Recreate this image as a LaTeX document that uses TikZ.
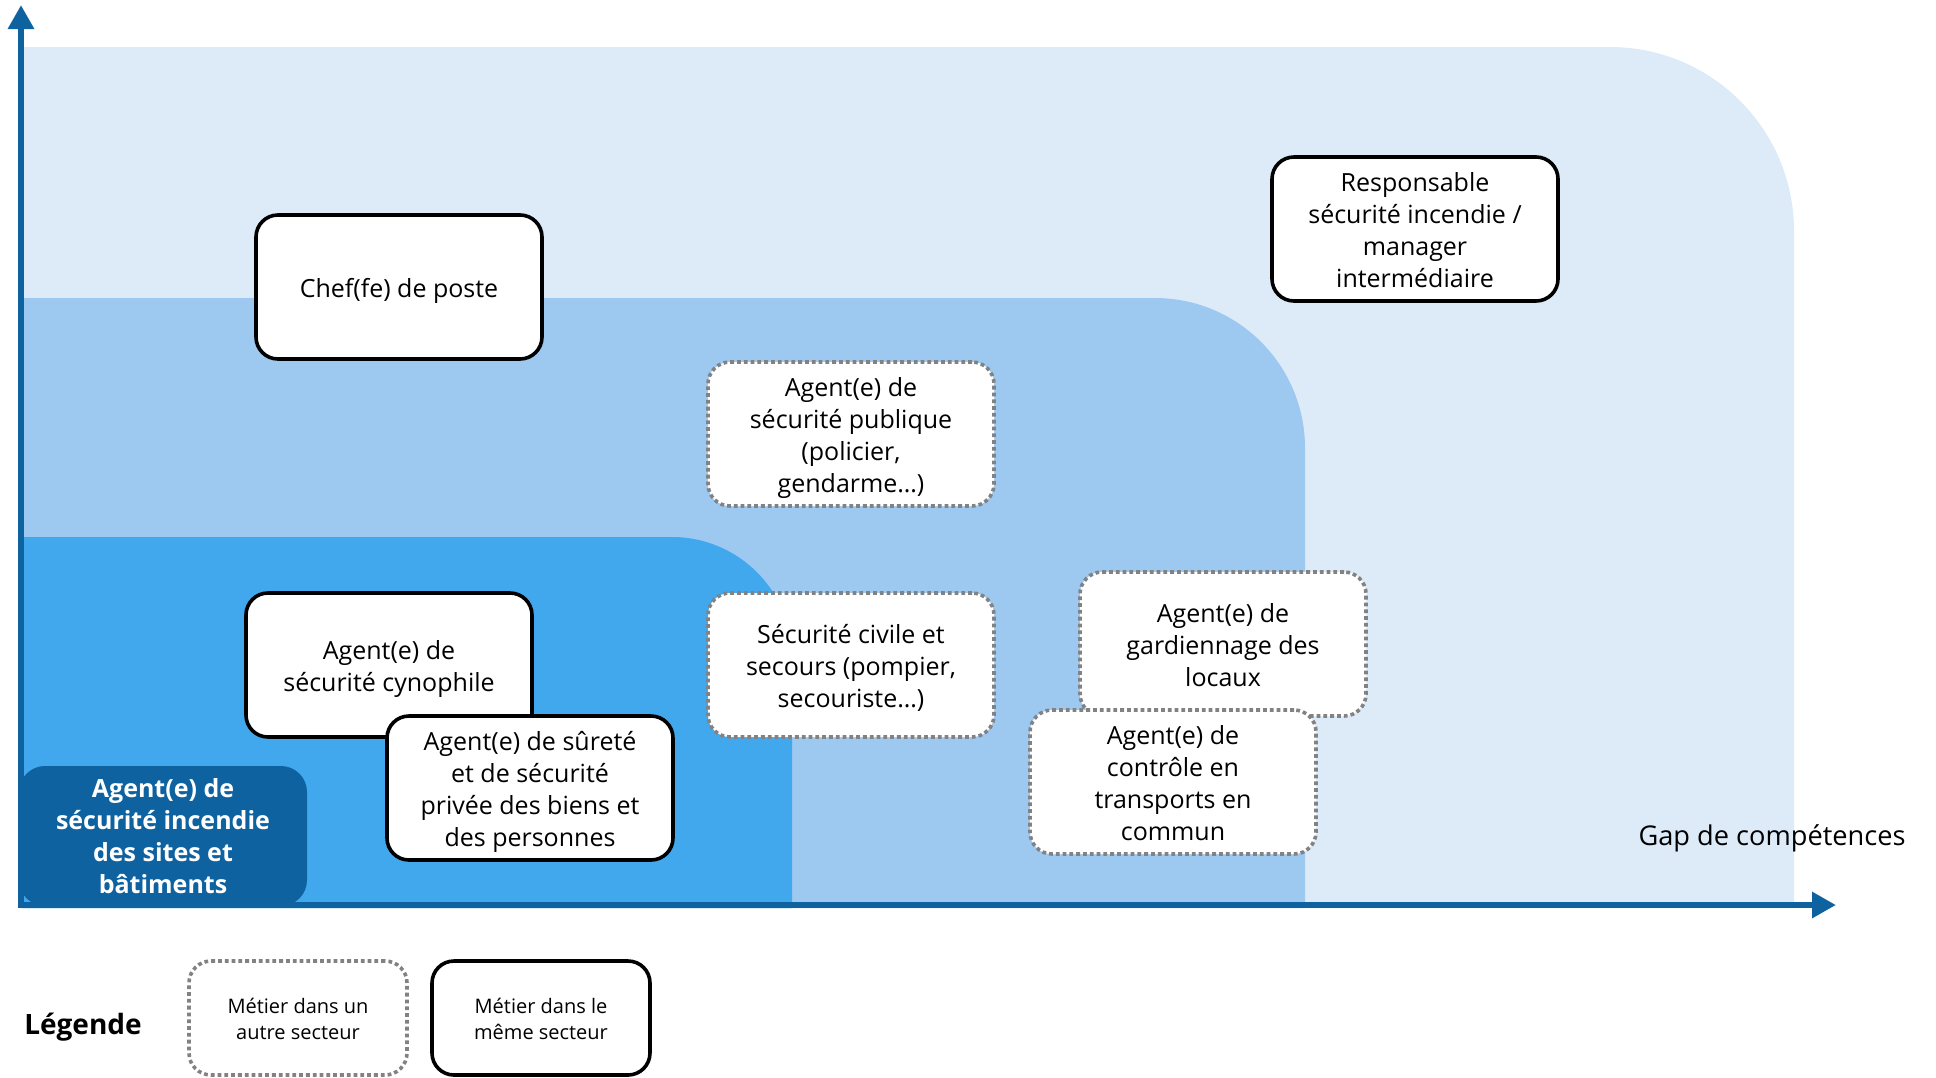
\documentclass[tikz,border=0pt]{standalone}
\usepackage{fontspec}
\setmainfont{Open Sans}
\usetikzlibrary{arrows.meta}
\definecolor{zoneA}{HTML}{DDEBF9}
\definecolor{zoneB}{HTML}{9DC9F1}
\definecolor{zoneC}{HTML}{42A8EE}
\definecolor{axe}{HTML}{0E62A0}
\definecolor{pointille}{HTML}{828282}
\newcommand{\txt}{\fontsize{12.5}{16}\selectfont}

\begin{document}
\begin{tikzpicture}[x=0.5pt, y=-0.5pt,
    job/.style={draw=black, line width=1.8pt, fill=white, rounded corners=11pt,
      align=center, minimum width=143pt, minimum height=72pt, font=\txt,
      execute at begin node=\vbox\bgroup\kern4pt\hbox\bgroup,
      execute at end node=\rule[-3pt]{0pt}{3pt}\egroup\egroup},
    other/.style={job, draw=pointille, line width=1.8pt,
      dash pattern=on 1.9pt off 1.5pt},
    small/.style={minimum width=109pt, minimum height=57pt,
      font=\fontsize{10}{13}\selectfont},
    axis/.style={draw=axe, line width=3pt, -{Triangle[length=12pt,width=12.5pt]}}]
      \useasboundingbox (0,0) rectangle (1936,1077);

      % zones de competences
      \fill [zoneA] (21,908) -- (21,47) [rounded corners=92pt] -- (1794,47)
        [sharp corners] -- (1794,908) -- cycle;
      \fill [zoneB] (21,908) -- (21,298) [rounded corners=75pt] -- (1305,298)
        [sharp corners] -- (1305,908) -- cycle;
      \fill [zoneC] (21,908) -- (21,537) [rounded corners=60pt] -- (792,537)
        [sharp corners] -- (792,908) -- cycle;

      \coordinate (o) at (21,908);
      \coordinate (ytop) at (21,5);
      \coordinate (xo) at (18,905);
      \coordinate (xend) at (1836,905);
      \draw [axis] (o) -- (ytop);
      \draw [axis] (xo) -- (xend);

      \node [job, name=chef] at (399,287) {Chef(fe) de poste};
      \node [job, name=resp] at (1415,229)
      {Responsable\\sécurité incendie /\\manager\\intermédiaire};
      \node [other, name=pub] at (851,434)
      {Agent(e) de\\sécurité publique\\(policier,\\gendarme…)};
      \node [other, name=civ] at (851,665)
      {Sécurité civile et\\secours (pompier,\\secouriste…)};
      \node [other, name=gard] at (1223,644)
      {Agent(e) de\\gardiennage des\\locaux};
      \node [other, name=ctrl] at (1173,782)
      {Agent(e) de\\contrôle en\\transports en\\commun};
      \node [job, name=cyno] at (389,665)
      {Agent(e) de\\sécurité cynophile};
      \node [job, name=surete] at (530,788)
      {Agent(e) de sûreté\\et de sécurité\\privée des biens et\\des personnes};
      \node [fill=axe, text=white, rounded corners=13pt, align=center,
        minimum width=144pt, minimum height=70pt, font=\txt\bfseries,
        name=incendie] at (163,836)
      {Agent(e) de\\sécurité incendie\\des sites et\\bâtiments};

      \node [font=\fontsize{13.6}{16}\selectfont, name=gap] at (1772,838)
      {Gap de compétences};

      % legende
      \node [font=\fontsize{14}{17}\selectfont\bfseries, name=leg] at (83,1027) {Légende};
      \node [other, small, name=legother] at (298,1018)
      {Métier dans un\\autre secteur};
      \node [job, small, name=legsame] at (541,1018)
      {Métier dans le\\même secteur};
    \end{tikzpicture}
\end{document}
